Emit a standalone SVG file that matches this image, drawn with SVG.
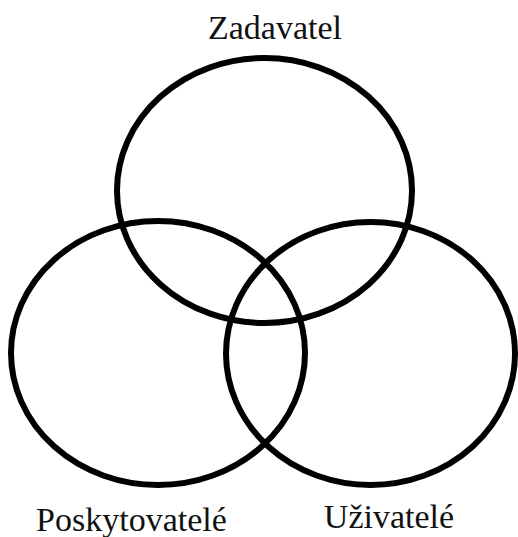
<svg xmlns="http://www.w3.org/2000/svg" width="518" height="537" viewBox="0 0 518 537">
<style>
.set{fill:none;stroke:#000;stroke-width:6}
.lbl{font-family:"Liberation Serif","Times New Roman",serif;font-size:34px;fill:#111;text-anchor:middle}
</style>
<rect width="518" height="537" fill="#fff"/>
<g id="zadavatel">
<ellipse class="set" cx="264.5" cy="190.5" rx="147.5" ry="132.5"/>
<text class="lbl" x="275" y="39">Zadavatel</text>
</g>
<g id="poskytovatele">
<ellipse class="set" cx="158" cy="353" rx="147" ry="132"/>
<text class="lbl" x="131.5" y="531">Poskytovatelé</text>
</g>
<g id="uzivatele">
<ellipse class="set" cx="370.5" cy="353.5" rx="144.5" ry="131.5"/>
<text class="lbl" x="389" y="528">Uživatelé</text>
</g>
<g id="connectors"></g>
</svg>
